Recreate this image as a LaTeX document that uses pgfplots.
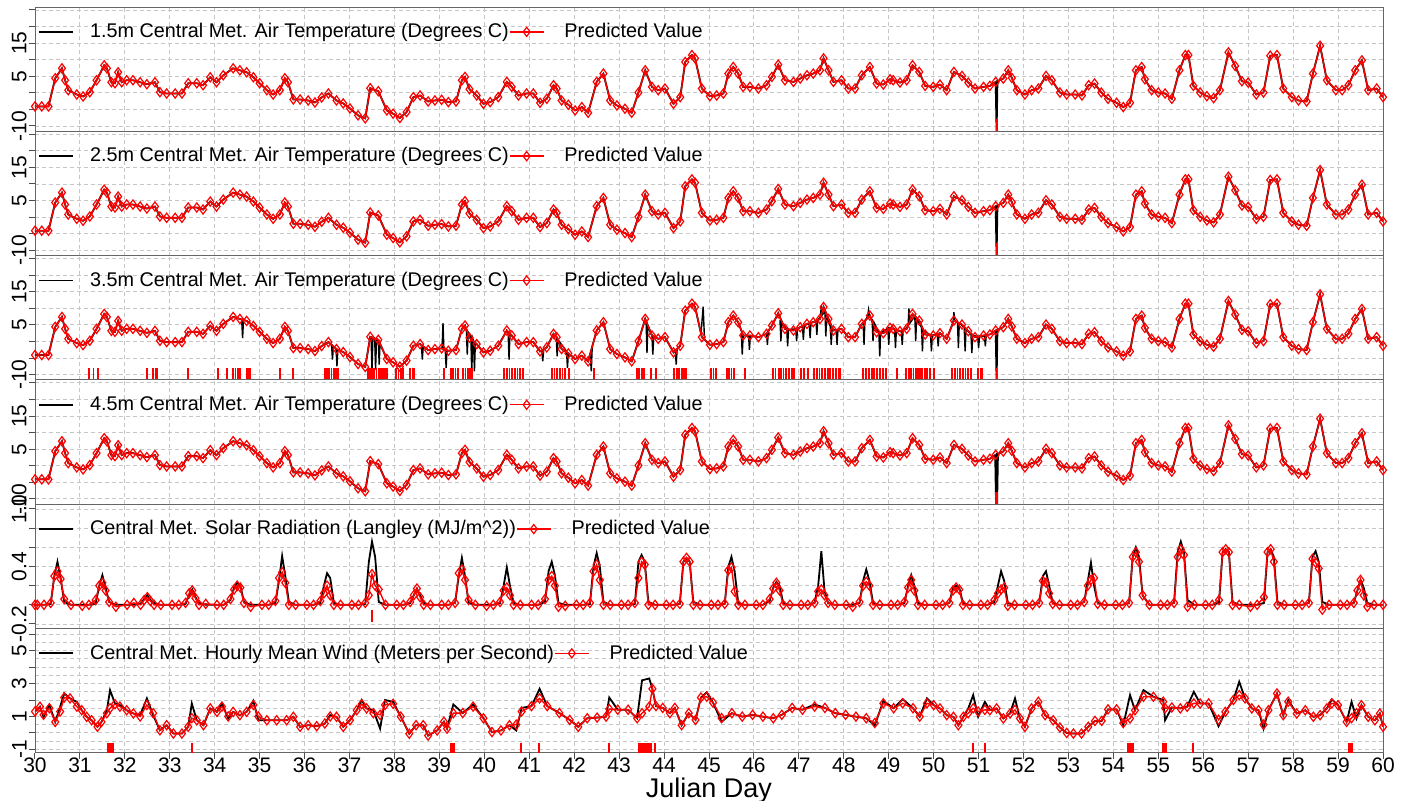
\documentclass[border=0pt]{standalone}
\usepackage{fontspec}
\setmainfont{Liberation Sans}
\usepackage{pgfplots}
\usepackage{pgfplotstable}
\pgfplotsset{compat=1.18}

% air temperature (same curve in the other heights)
\pgfplotstableread{
day T
30.00 -4.1
30.15 -4.1
30.30 -4.1
30.45 4.4
30.60 7.4
30.67 3.8
30.74 0.8
30.93 -0.5
31.07 -1.1
31.22 0.2
31.37 3.8
31.54 8.3
31.60 7.4
31.70 3.2
31.78 2.9
31.85 6.2
31.93 3.2
32.04 3.8
32.18 3.8
32.34 3.2
32.49 2.6
32.67 3.2
32.78 0.2
32.93 -0.2
33.12 -0.2
33.27 -0.2
33.41 2.9
33.60 2.9
33.74 2.3
33.90 4.7
34.04 3.2
34.19 5.3
34.41 7.4
34.56 6.8
34.71 6.2
34.86 4.7
35.00 2.9
35.16 0.8
35.30 -0.5
35.45 0.8
35.56 4.4
35.63 3.2
35.75 -2.0
35.90 -2.0
36.08 -2.3
36.23 -2.9
36.38 -1.4
36.53 -0.2
36.71 -2.3
36.86 -3.2
37.01 -4.7
37.19 -6.8
37.35 -7.7
37.46 1.4
37.64 0.5
37.83 -5.3
37.97 -6.3
38.12 -7.6
38.27 -5.8
38.42 -1.3
38.57 -0.8
38.75 -2.6
38.90 -2.3
39.05 -2.1
39.20 -2.8
39.37 -2.6
39.50 3.8
39.57 4.8
39.67 1.1
39.83 -0.8
39.98 -3.3
40.13 -2.8
40.31 -1.3
40.50 3.3
40.61 1.8
40.76 -0.8
40.94 -0.2
41.09 -0.2
41.24 -3.0
41.39 -1.8
41.54 2.3
41.61 1.3
41.72 -2.3
41.87 -3.6
42.02 -5.3
42.17 -4.3
42.31 -6.0
42.50 3.3
42.65 5.8
42.80 -2.3
42.95 -3.8
43.13 -4.8
43.28 -6.0
43.43 0.1
43.58 6.8
43.73 1.8
43.87 0.8
44.02 1.3
44.21 -3.3
44.36 -1.3
44.47 9.3
44.62 11.4
44.69 10.4
44.84 1.3
45.02 -1.0
45.17 -0.8
45.32 -0.2
45.43 5.8
45.54 7.8
45.65 5.8
45.76 1.8
45.91 1.8
46.10 1.3
46.28 2.3
46.40 4.8
46.54 8.5
46.69 3.8
46.88 3.3
47.03 4.3
47.18 5.3
47.32 5.8
47.47 6.8
47.55 10.4
47.66 6.8
47.77 3.3
47.95 3.8
48.10 1.3
48.25 1.3
48.40 5.3
48.58 7.8
48.73 2.8
48.88 2.5
49.03 4.1
49.10 3.8
49.25 3.1
49.40 3.8
49.53 8.3
49.68 6.3
49.81 2.1
49.99 1.8
50.14 2.5
50.29 0.8
50.45 6.3
50.63 5.1
50.77 3.1
50.92 1.3
51.11 1.8
51.25 2.1
51.38 3.3
51.55 4.3
51.66 6.8
51.74 4.5
51.85 0.8
52.03 -0.5
52.18 0.8
52.33 1.3
52.50 5.1
52.63 3.8
52.81 0.1
52.96 -0.5
53.15 -0.5
53.30 -0.8
53.45 2.3
53.58 2.8
53.73 0.1
53.88 -1.8
54.07 -3.0
54.22 -4.3
54.37 -3.0
54.50 6.8
54.63 7.8
54.70 4.1
54.85 0.8
55.00 0.1
55.15 -0.2
55.30 -1.8
55.47 6.8
55.60 11.4
55.67 11.4
55.78 2.1
55.93 0.1
56.08 -1.0
56.23 -1.6
56.37 0.8
56.56 12.2
56.71 8.1
56.86 3.5
57.00 3.1
57.18 -0.5
57.34 0.1
57.49 11.2
57.64 11.4
57.78 1.3
57.97 -1.3
58.12 -2.3
58.30 -2.6
58.44 5.8
58.60 14.2
58.75 3.8
58.95 0.8
59.09 0.8
59.23 2.3
59.38 6.8
59.53 9.8
59.67 0.8
59.86 1.3
60.00 -1.3
}\temp

% extra noise of the 3.5 m sensor (nan breaks the line)
\pgfplotstableread{
day T
34.60 6.5
34.62 1.0
34.64 6.4
nan nan
36.60 -1.0
36.62 -5.5
36.64 -1.6
nan nan
36.70 -2.0
36.72 -7.5
36.74 -2.5
nan nan
37.48 1.2
37.50 -9.2
37.52 1.1
37.56 0.8
37.58 -8.5
37.60 0.7
37.64 0.5
37.66 -7.0
37.68 0.0
nan nan
38.60 -1.2
38.62 -5.5
38.64 -1.6
nan nan
39.06 -2.1
39.08 5.5
39.10 -2.3
39.13 -2.4
39.15 -8.0
39.17 -2.7
nan nan
39.60 3.8
39.62 -4.0
39.64 2.8
39.70 1.6
39.72 -9.8
39.74 1.0
39.76 0.2
39.78 -9.0
39.80 -0.3
nan nan
40.53 2.8
40.55 -5.5
40.57 2.3
nan nan
41.28 -2.7
41.30 -6.0
41.32 -2.5
nan nan
41.60 1.5
41.62 -4.5
41.64 0.5
41.83 -3.0
41.85 -8.0
41.87 -3.6
nan nan
42.36 -4.5
42.38 -9.0
42.40 -2.0
nan nan
43.60 6.0
43.62 -3.5
43.64 4.5
43.73 1.8
43.75 -4.0
43.77 1.6
nan nan
44.25 -2.8
44.27 -7.0
44.29 -2.5
nan nan
44.82 2.0
44.87 10.5
44.90 0.5
nan nan
45.72 2.5
45.74 -4.0
45.76 1.8
45.88 1.8
45.90 -2.5
45.92 1.7
nan nan
46.28 2.3
46.30 -1.0
46.32 2.6
nan nan
46.58 6.5
46.60 0.0
46.62 5.5
46.73 3.8
46.75 -1.5
46.77 3.6
46.93 3.8
46.95 0.0
46.97 3.9
47.08 4.6
47.10 0.5
47.12 4.8
47.23 5.4
47.25 1.0
47.27 5.6
47.38 6.2
47.40 2.0
47.42 6.4
47.48 7.5
47.50 10.8
47.52 8.0
47.58 9.0
47.60 1.5
47.62 7.5
47.70 4.5
47.72 -1.0
47.74 3.6
47.83 3.4
47.85 -1.0
47.87 3.6
nan nan
48.43 5.8
48.45 -1.0
48.47 6.2
48.53 7.5
48.55 9.5
48.57 7.8
48.63 6.5
48.65 0.0
48.67 5.8
48.78 2.7
48.80 -4.5
48.82 2.6
48.98 4.0
49.00 -1.0
49.02 4.1
49.13 3.6
49.15 -2.0
49.17 3.4
49.28 3.2
49.30 -1.0
49.32 3.3
49.43 4.5
49.45 10.0
49.47 5.5
49.58 7.6
49.60 0.0
49.62 7.0
49.73 4.2
49.75 -3.0
49.77 3.4
49.93 1.9
49.95 -3.0
49.97 1.8
50.08 2.2
50.10 -1.5
50.12 2.4
nan nan
50.43 5.5
50.45 8.8
50.47 6.2
50.53 5.8
50.55 -2.0
50.57 5.5
50.68 4.2
50.70 -3.0
50.72 3.8
50.83 2.2
50.85 -3.5
50.87 1.9
50.98 1.4
51.00 -2.0
51.02 1.4
51.13 1.7
51.15 -1.5
51.17 1.8
}\noise

% flagged hours of the 3.5 m sensor
\pgfplotstableread{
day y
31.20 -9.6
31.30 -9.6
31.40 -9.6
32.49 -9.6
32.63 -9.6
32.68 -9.6
32.72 -9.6
33.40 -9.6
34.07 -9.6
34.27 -9.6
34.41 -9.6
34.46 -9.6
34.51 -9.6
34.56 -9.6
34.72 -9.6
34.76 -9.6
34.79 -9.6
35.45 -9.6
35.74 -9.6
36.45 -9.6
36.50 -9.6
36.55 -9.6
36.60 -9.6
36.65 -9.6
36.70 -9.6
36.74 -9.6
37.41 -9.6
37.45 -9.6
37.50 -9.6
37.55 -9.6
37.60 -9.6
37.65 -9.6
37.70 -9.6
37.75 -9.6
37.79 -9.6
37.83 -9.6
38.04 -9.6
38.09 -9.6
38.14 -9.6
38.19 -9.6
38.35 -9.6
38.40 -9.6
38.44 -9.6
39.10 -9.6
39.26 -9.6
39.31 -9.6
39.36 -9.6
39.41 -9.6
39.53 -9.6
39.58 -9.6
39.63 -9.6
39.68 -9.6
39.73 -9.6
40.44 -9.6
40.50 -9.6
40.56 -9.6
40.62 -9.6
40.68 -9.6
40.74 -9.6
40.80 -9.6
40.86 -9.6
41.50 -9.6
41.56 -9.6
41.62 -9.6
41.68 -9.6
41.74 -9.6
41.80 -9.6
41.88 -9.6
42.44 -9.6
43.40 -9.6
43.45 -9.6
43.50 -9.6
43.55 -9.6
43.71 -9.6
43.82 -9.6
44.22 -9.6
44.28 -9.6
44.34 -9.6
44.40 -9.6
44.45 -9.6
44.49 -9.6
45.04 -9.6
45.10 -9.6
45.16 -9.6
45.40 -9.6
45.45 -9.6
45.50 -9.6
45.56 -9.6
45.80 -9.6
46.43 -9.6
46.48 -9.6
46.55 -9.6
46.60 -9.6
46.66 -9.6
46.72 -9.6
46.78 -9.6
46.84 -9.6
46.89 -9.6
47.05 -9.6
47.12 -9.6
47.20 -9.6
47.34 -9.6
47.40 -9.6
47.46 -9.6
47.52 -9.6
47.58 -9.6
47.64 -9.6
47.70 -9.6
47.76 -9.6
47.82 -9.6
47.88 -9.6
47.92 -9.6
48.43 -9.6
48.50 -9.6
48.56 -9.6
48.62 -9.6
48.68 -9.6
48.74 -9.6
48.80 -9.6
48.87 -9.6
48.94 -9.6
49.19 -9.6
49.39 -9.6
49.45 -9.6
49.50 -9.6
49.55 -9.6
49.60 -9.6
49.65 -9.6
49.70 -9.6
49.74 -9.6
49.80 -9.6
49.86 -9.6
49.92 -9.6
50.00 -9.6
50.41 -9.6
50.47 -9.6
50.53 -9.6
50.59 -9.6
50.65 -9.6
50.71 -9.6
50.77 -9.6
50.83 -9.6
50.99 -9.6
51.04 -9.6
51.08 -9.6
51.40 -9.6
}\rugthree

% solar radiation: observed, predicted
\pgfplotstableread{
day obs pred
30.00 0 0
30.05 0 0
30.20 0 0
30.35 0.01 0.02
30.43 0.30 0.30
30.50 0.45 0.35
30.57 0.28 0.27
30.65 0.03 0.06
30.80 0 0
31.05 0 -0.01
31.20 0 0
31.35 0.01 0.05
31.43 0.20 0.20
31.50 0.31 0.23
31.57 0.18 0.15
31.65 0.03 0.03
31.80 0 -0.02
32.05 0 0
32.20 0 0.02
32.35 0.01 0
32.43 0.06 0.05
32.50 0.10 0.08
32.57 0.05 0.04
32.65 0.02 0
32.80 0 0
33.05 0 0
33.20 0 0
33.35 0.01 0.02
33.43 0.10 0.12
33.50 0.16 0.15
33.57 0.08 0.07
33.65 0.02 0
33.80 0 0.01
34.05 0 0
34.20 0 0
34.35 0.05 0.06
34.43 0.18 0.16
34.50 0.23 0.20
34.57 0.20 0.18
34.65 0.03 0.02
34.80 0 -0.02
35.05 0 0
35.20 0 0
35.35 0.02 0.04
35.43 0.25 0.28
35.50 0.51 0.34
35.57 0.30 0.23
35.65 0.03 0
35.80 0 0
36.05 0 0
36.20 0 0
36.35 0.02 0.04
36.43 0.20 0.12
36.50 0.33 0.20
36.57 0.28 0.10
36.65 0.02 0
36.80 0 0
37.05 0 0
37.20 0 0
37.35 0.01 0.02
37.43 0.45 0.10
37.50 0.66 0.32
37.57 0.50 0.20
37.65 0.03 0.16
37.80 0 0
38.05 0 0
38.20 0 0
38.35 0.02 0.03
38.43 0.10 0.10
38.50 0.17 0.17
38.57 0.10 0.08
38.65 0.02 0
38.80 0 0
39.05 0 0
39.20 0 0
39.35 0.02 0.02
39.43 0.30 0.33
39.50 0.49 0.37
39.57 0.30 0.26
39.65 0.02 0.05
39.80 0 0
40.05 0 -0.01
40.20 0 0
40.35 0.02 0.03
40.43 0.20 0.15
40.50 0.39 0.18
40.57 0.20 0.10
40.65 0.02 0
40.80 0 0
41.05 0 0
41.20 0 0
41.35 0.03 0.06
41.43 0.35 0.26
41.50 0.45 0.30
41.57 0.31 0.20
41.65 0.02 -0.02
41.80 0 -0.01
42.05 0 0
42.20 0 0
42.35 0.01 0.02
42.43 0.40 0.35
42.50 0.54 0.42
42.57 0.40 0.26
42.65 0.03 0
42.80 0 0
43.05 0 0
43.20 0 0
43.35 0.01 0.02
43.43 0.45 0.28
43.50 0.52 0.45
43.57 0.45 0.42
43.65 0.03 0
43.80 0 0
44.05 0 0
44.20 0 0
44.35 0.01 0.01
44.43 0.45 0.45
44.50 0.49 0.49
44.57 0.45 0.45
44.65 0.03 0
44.80 0 0
45.05 0 0
45.20 0 0
45.35 0.01 0.01
45.43 0.40 0.36
45.50 0.50 0.39
45.57 0.35 0.14
45.65 0.02 0
45.80 0 0
46.05 0 0
46.20 0 0
46.35 0.04 0.06
46.43 0.18 0.17
46.50 0.24 0.23
46.57 0.20 0.15
46.65 0.02 0
46.80 0 0
47.05 0 0
47.20 0 0
47.35 0.02 0.02
47.43 0.20 0.14
47.50 0.56 0.16
47.57 0.15 0.10
47.65 0.02 0.02
47.80 0 0
48.05 0 0
48.20 0 -0.02
48.35 0.02 0.03
48.43 0.25 0.20
48.50 0.37 0.24
48.57 0.25 0.20
48.65 0.02 0
48.80 0 0
49.05 0 0
49.20 0 0
49.35 0.02 0.03
49.43 0.20 0.18
49.50 0.31 0.26
49.57 0.20 0.15
49.65 0.02 0
49.80 0 0
50.05 0 0
50.20 0 0
50.35 0.02 0.02
50.43 0.18 0.15
50.50 0.20 0.18
50.57 0.18 0.16
50.65 0.02 0
50.80 0 0
51.05 0 0
51.20 0 0
51.35 0.03 0.05
51.43 0.20 0.12
51.50 0.35 0.16
51.57 0.25 0.18
51.65 0.02 -0.01
51.80 0 0
52.05 0 0
52.20 0 0
52.35 0.02 0.02
52.43 0.30 0.25
52.50 0.35 0.23
52.57 0.20 0.12
52.65 0.02 0.01
52.80 0 0
53.05 0 0
53.20 0 0
53.35 0.03 0.03
53.43 0.25 0.20
53.50 0.44 0.26
53.57 0.20 0.28
53.65 0.02 0.01
53.80 0 0
54.05 0 0
54.20 0 0
54.35 0.02 0.02
54.43 0.50 0.50
54.50 0.60 0.55
54.57 0.50 0.45
54.65 0.10 0.10
54.80 0 0
55.05 0 0
55.20 0 0
55.35 0.02 0.02
55.43 0.55 0.50
55.50 0.66 0.58
55.57 0.55 0.52
55.65 0.05 -0.02
55.80 0 0
56.05 0 0
56.20 0 0
56.35 0.02 0.05
56.43 0.55 0.55
56.50 0.58 0.58
56.57 0.55 0.55
56.65 0.03 0
56.80 0 0
57.05 0 -0.02
57.20 0 0
57.35 0.02 0.08
57.43 0.55 0.55
57.50 0.58 0.58
57.57 0.50 0.45
57.65 0.03 0
57.80 0 0
58.05 0 0
58.20 0 0
58.35 0.02 0.02
58.43 0.50 0.48
58.50 0.56 0.44
58.57 0.45 0.38
58.65 0.03 -0.05
58.80 0 0
59.05 0 0
59.20 0 0
59.35 0.02 0.02
59.43 0.15 0.15
59.50 0.26 0.26
59.57 0.18 0.10
59.65 0.02 -0.02
59.80 0 0
60.00 0 0
}\solar

% hourly mean wind: observed, predicted
\pgfplotstableread{
day obs pred
30.00 1.30 1.30
30.11 1.59 1.59
30.19 0.98 1.10
30.32 1.69 1.50
30.45 0.67 0.67
30.56 1.59 1.30
30.65 2.40 2.15
30.78 2.10 2.10
30.93 1.89 1.60
31.04 1.38 1.38
31.15 0.98 0.98
31.26 0.77 0.77
31.39 0.37 0.37
31.48 0.67 0.67
31.60 1.38 1.20
31.67 2.60 1.50
31.78 1.79 1.75
31.89 1.69 1.60
32.04 1.38 1.38
32.19 1.18 1.18
32.34 1.08 1.00
32.49 2.10 1.70
32.63 1.08 1.20
32.78 0.16 0.16
32.93 0.47 0.47
33.08 -0.04 -0.04
33.27 -0.04 -0.04
33.41 0.37 0.37
33.49 1.79 0.90
33.60 0.77 0.77
33.75 0.47 0.47
33.90 1.49 1.49
34.05 1.28 1.28
34.16 1.79 1.60
34.30 0.88 1.00
34.41 1.28 1.28
34.56 1.08 1.08
34.71 1.28 1.28
34.86 1.95 1.70
34.97 0.77 1.00
35.16 0.77 0.77
35.38 0.77 0.77
35.60 0.77 0.77
35.75 0.98 0.98
35.90 0.37 0.37
36.08 0.47 0.47
36.27 0.41 0.41
36.45 0.57 0.57
36.57 1.08 1.00
36.71 0.98 0.98
36.86 0.37 0.37
37.01 0.77 0.77
37.16 1.38 1.38
37.27 2.00 1.75
37.38 1.49 1.49
37.53 1.38 1.20
37.68 0.26 1.10
37.79 2.00 1.70
37.97 1.89 1.77
38.14 0.99 0.99
38.33 -0.05 -0.05
38.48 0.47 0.47
38.64 0.47 0.47
38.75 -0.16 -0.16
38.95 0.15 0.15
39.10 0.68 0.68
39.17 0.26 0.26
39.31 1.73 1.20
39.52 1.21 1.21
39.75 1.73 1.60
39.98 0.89 0.89
40.17 0.05 0.05
40.37 0.15 0.15
40.56 0.47 0.47
40.71 0.15 0.50
40.83 1.52 1.30
41.05 1.63 1.63
41.23 2.68 2.10
41.40 1.63 1.63
41.67 1.21 1.21
41.90 0.79 0.79
42.09 0.37 0.37
42.29 0.89 0.89
42.51 0.93 0.93
42.71 0.99 0.99
42.78 2.15 1.45
42.97 1.41 1.41
43.20 1.41 1.41
43.40 0.89 0.89
43.51 3.20 1.20
43.67 3.31 1.60
43.74 2.68 2.68
43.82 1.63 1.63
43.97 1.52 1.52
44.13 1.20 1.20
44.24 1.52 1.52
44.39 0.47 0.47
44.55 1.20 1.20
44.70 0.79 0.79
44.82 2.15 2.15
44.95 2.47 2.20
45.09 1.84 1.84
45.28 0.68 0.90
45.51 1.20 1.20
45.74 0.99 0.99
45.97 1.10 1.10
46.20 0.99 0.99
46.43 0.89 0.89
46.62 1.10 1.10
46.85 1.52 1.52
47.08 1.41 1.41
47.35 1.73 1.60
47.58 1.52 1.52
47.81 1.20 1.20
48.04 1.10 1.10
48.27 0.99 0.99
48.50 0.89 0.89
48.69 0.47 0.60
48.88 1.94 1.80
49.11 1.50 1.50
49.31 2.05 1.80
49.54 1.50 1.50
49.69 0.99 0.99
49.85 2.10 1.80
50.00 1.69 1.69
50.14 1.49 1.49
50.29 1.08 1.08
50.44 0.98 0.98
50.55 0.47 0.47
50.66 0.98 0.98
50.77 1.49 1.20
50.88 2.30 1.50
50.99 0.98 1.30
51.14 1.89 1.40
51.25 1.38 1.38
51.40 1.49 1.49
51.55 0.88 0.88
51.70 1.18 1.18
51.81 2.10 1.40
51.92 0.88 0.88
52.03 0.37 0.37
52.18 1.49 1.49
52.33 1.89 1.89
52.48 1.08 1.08
52.66 0.77 0.77
52.81 0.33 0.33
52.96 0.00 0.00
53.11 -0.04 -0.04
53.29 -0.04 -0.04
53.44 0.37 0.37
53.59 0.73 0.73
53.74 0.73 0.73
53.88 1.43 1.43
54.07 1.43 1.43
54.22 0.47 0.60
54.37 2.30 0.88
54.48 1.38 1.38
54.67 2.60 2.20
54.89 2.20 2.20
55.11 2.00 1.90
55.15 0.77 1.50
55.30 1.55 1.55
55.49 1.49 1.49
55.64 1.59 1.59
55.79 2.50 1.80
55.93 1.79 1.79
56.12 1.79 1.79
56.34 0.41 0.80
56.49 1.28 1.28
56.67 2.00 2.00
56.80 3.11 2.30
56.93 2.10 2.10
57.08 1.49 1.49
57.23 1.38 1.38
57.34 0.26 0.50
57.45 1.38 1.38
57.64 2.40 2.40
57.78 1.08 1.08
57.89 2.00 1.90
58.08 1.18 1.18
58.27 1.38 1.38
58.45 0.98 0.98
58.60 1.08 1.08
58.75 1.49 1.49
58.86 2.04 1.80
59.00 1.69 1.69
59.19 0.67 0.67
59.30 1.89 0.90
59.41 0.88 1.20
59.52 1.69 1.69
59.67 0.98 0.98
59.82 0.77 0.77
59.93 1.18 1.18
60.00 0.37 0.37
}\wind

% flagged hours of the wind sensor
\pgfplotstableread{
day y
31.63 -0.92
31.66 -0.92
31.69 -0.92
31.72 -0.92
31.74 -0.92
33.49 -0.92
39.26 -0.92
39.29 -0.92
39.33 -0.92
40.82 -0.92
41.22 -0.92
42.77 -0.92
43.44 -0.92
43.48 -0.92
43.52 -0.92
43.56 -0.92
43.60 -0.92
43.64 -0.92
43.68 -0.92
43.71 -0.92
43.80 -0.92
50.87 -0.92
51.14 -0.92
54.33 -0.92
54.36 -0.92
54.40 -0.92
54.44 -0.92
55.10 -0.92
55.13 -0.92
55.17 -0.92
55.77 -0.92
59.25 -0.92
59.28 -0.92
59.31 -0.92
}\rugwind

\pgfplotsset{
  panel/.style={
    scale only axis, width=674pt, height=62.15pt, anchor=north west,
    xmin=30, xmax=60, xtick={30,...,60},
    tick align=outside, major tick length=3pt,
    xtick pos=left, ytick pos=left,
    axis line style={black!60}, tick style={black!70, line width=0.5pt},
    grid=major,
    major grid style={gray!45, line width=0.45pt, dash pattern=on 2pt off 1.5pt},
    minor grid style={gray!45, line width=0.45pt, dash pattern=on 2pt off 1.5pt},
    yticklabel style={rotate=90, anchor=south, inner sep=1pt, font=\fontsize{10.5}{12}\selectfont},
    xticklabel style={font=\fontsize{10.5}{12}\selectfont, inner sep=0.5pt, yshift=1pt},
    /pgf/number format/assume math mode=true,
    legend columns=2,
    legend style={at={(0.002,0.905)}, anchor=north west, draw=none, fill=none,
      font=\fontsize{9.9}{11}\selectfont, inner sep=0pt, nodes={inner xsep=0pt}},
  },
  upper/.style={xticklabels={}, xtick style={draw=none}},
  temp/.style={ymin=-11.6, ymax=25.9, ytick={-10,-5,...,25}, yticklabels={-10,,,5,,15,,}},
  obs/.style={black, line width=0.9pt},
  pred/.style={red, line width=0.7pt, mark=diamond, mark size=2.3pt,
    mark options={solid, line width=0.6pt, fill=none}},
  rug/.style={red, only marks, mark=|, forget plot},
}

\begin{document}
\begin{tikzpicture}
% 1.5 m
\begin{axis}[panel, upper, temp, at={(0pt,0pt)}]
\addplot[obs] table[x=day, y=T] {\temp};
\addlegendentry{\hspace{8pt}1.5m Central Met. Air Temperature (Degrees C)}
\addplot[pred] table[x=day, y=T] {\temp};
\addlegendentry{\hspace{10pt}Predicted Value}
\addplot[obs, forget plot] coordinates {(51.38,3.3) (51.40,-12) (51.42,3.8)};
\addplot[rug, mark size=3pt, mark options={line width=1pt}] coordinates {(51.40,-9.6)};
\end{axis}
% 2.5 m
\begin{axis}[panel, upper, temp, at={(0pt,-62.15pt)}]
\addplot[obs] table[x=day, y=T] {\temp};
\addlegendentry{\hspace{8pt}2.5m Central Met. Air Temperature (Degrees C)}
\addplot[pred] table[x=day, y=T] {\temp};
\addlegendentry{\hspace{10pt}Predicted Value}
\addplot[obs, forget plot] coordinates {(51.38,3.3) (51.40,-12) (51.42,3.8)};
\addplot[rug, mark size=3pt, mark options={line width=1pt}] coordinates {(51.40,-9.6)};
\end{axis}
% 3.5 m
\begin{axis}[panel, upper, temp, at={(0pt,-124.3pt)}, unbounded coords=jump]
\addplot[obs] table[x=day, y=T] {\temp};
\addlegendentry{\hspace{8pt}3.5m Central Met. Air Temperature (Degrees C)}
\addplot[obs, line width=0.7pt, forget plot] table[x=day, y=T] {\noise};
\addplot[obs, forget plot] coordinates {(51.38,3.3) (51.40,-12) (51.42,3.8)};
\addplot[pred] table[x=day, y=T] {\temp};
\addlegendentry{\hspace{10pt}Predicted Value}
\addplot[rug, mark size=2.75pt, mark options={line width=0.9pt}] table[x=day, y=y] {\rugthree};
\end{axis}
% 4.5 m
\begin{axis}[panel, upper, temp, at={(0pt,-186.45pt)}]
\addplot[obs] table[x=day, y=T] {\temp};
\addlegendentry{\hspace{8pt}4.5m Central Met. Air Temperature (Degrees C)}
\addplot[pred] table[x=day, y=T] {\temp};
\addlegendentry{\hspace{10pt}Predicted Value}
\addplot[obs, line width=1.4pt, forget plot] coordinates {(51.38,3.3) (51.40,-12) (51.42,3.8)};
\addplot[rug, mark size=3pt, mark options={line width=1.4pt}] coordinates {(51.40,-9.6)};
\end{axis}
% solar radiation
\begin{axis}[panel, upper, at={(0pt,-248.6pt)},
  ymin=-0.247, ymax=1.05, ytick={-0.2,0,...,1.0}, yticklabels={-0.2,,,0.4,,,1.0}]
\addplot[obs] table[x=day, y=obs] {\solar};
\addlegendentry{\hspace{8pt}Central Met. Solar Radiation (Langley (MJ/m\textasciicircum 2))}
\addplot[pred] table[x=day, y=pred] {\solar};
\addlegendentry{\hspace{10pt}Predicted Value}
\addplot[rug, mark size=3pt, mark options={line width=1pt}] coordinates {(37.50,-0.12)};
\end{axis}
% wind
\begin{axis}[panel, at={(0pt,-310.75pt)},
  ymin=-1.21, ymax=6.35, ytick={-1,0,...,6}, yticklabels={-1,,1,,3,,5,},
  minor ytick={-0.5,0.5,...,5.5}, minor tick length=0pt, grid=both,
  xlabel={Julian Day}, xlabel style={font=\fontsize{13.5}{14}\selectfont, yshift=-1.5pt, inner sep=0pt}]
\addplot[obs] table[x=day, y=obs] {\wind};
\addlegendentry{\hspace{8pt}Central Met. Hourly Mean Wind (Meters per Second)}
\addplot[pred] table[x=day, y=pred] {\wind};
\addlegendentry{\hspace{10pt}Predicted Value}
\addplot[rug, mark size=2.5pt, mark options={line width=1pt}] table[x=day, y=y] {\rugwind};
\end{axis}
\pgfresetboundingbox
\path[use as bounding box] (-17.5pt,3.5pt) rectangle (686.5pt,-397pt);
\end{tikzpicture}
\end{document}
